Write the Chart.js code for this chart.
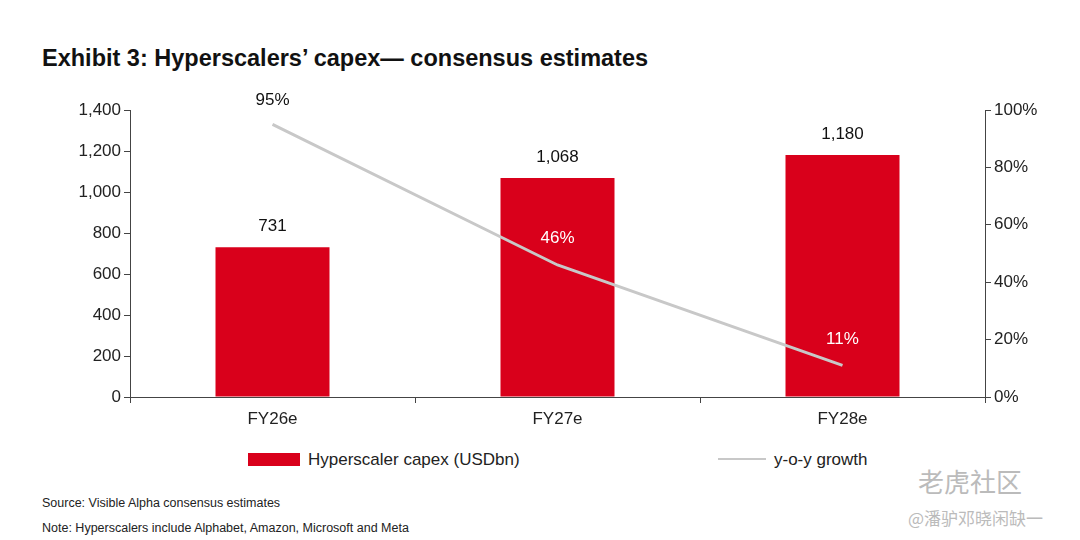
<!DOCTYPE html>
<html><head><meta charset="utf-8">
<script src="https://cdn.jsdelivr.net/npm/chart.js@4"></script>
<style>
body{margin:0;width:1080px;height:540px;background:#fff;font-family:"Liberation Sans",Arial,sans-serif;position:relative;overflow:hidden}
#title{position:absolute;left:42px;top:45px;font-size:23.5px;font-weight:bold;color:#111}
#wrap{position:absolute;left:0;top:90px;width:1080px;height:350px}
.leg{position:absolute;top:450px;font-size:17px;color:#222}
.note{position:absolute;left:42px;font-size:12.5px;color:#222}
.wm{position:absolute;color:#bbb}
</style></head><body>
<div id="title">Exhibit 3: Hyperscalers’ capex— consensus estimates</div>
<div id="wrap"><canvas id="c"></canvas></div>
<div class="leg" style="left:248px"><span style="display:inline-block;width:52px;height:13px;background:#d9001b;vertical-align:-1px;margin-right:8px"></span>Hyperscaler capex (USDbn)</div>
<div class="leg" style="left:718px"><span style="display:inline-block;width:48px;height:2px;background:#c8c8c8;vertical-align:5px;margin-right:8px"></span>y-o-y growth</div>
<div class="note" style="top:496px">Source: Visible Alpha consensus estimates</div>
<div class="note" style="top:521px">Note: Hyperscalers include Alphabet, Amazon, Microsoft and Meta</div>
<div class="wm" style="left:918px;top:462px;font-size:26px;font-family:'Noto Sans CJK SC'">老虎社区</div>
<div class="wm" style="left:908px;top:505px;font-size:17px;font-family:'Noto Sans CJK SC'">@潘驴邓晓闲缺一</div>
<script>
const categories = ["FY26e", "FY27e", "FY28e"];
const capex = [731, 1068, 1180];
const growth = [95, 46, 11];
const capexTicks = [0, 200, 400, 600, 800, 1000, 1200, 1400];

const labelPlugin = {
  id: "labels",
  afterDatasetsDraw(chart) {
    const ctx = chart.ctx;
    ctx.save();
    ctx.font = "17px 'Liberation Sans', Arial";
    ctx.textAlign = "center";
    ctx.textBaseline = "bottom";
    chart.getDatasetMeta(1).data.forEach((b, i) => {
      ctx.fillStyle = "#111";
      ctx.fillText(capex[i].toLocaleString("en-US"), b.x, b.y - 12);
    });
    chart.getDatasetMeta(0).data.forEach((p, i) => {
      if (i === 0) { ctx.fillStyle = "#111"; ctx.fillText(growth[i] + "%", p.x, p.y - 16); }
      else { ctx.fillStyle = "#fff"; ctx.fillText(growth[i] + "%", p.x, p.y - 18); }
    });
    ctx.restore();
  }
};

new Chart(document.getElementById("c"), {
  data: {
    labels: categories,
    datasets: [{
      type: "line", data: growth, yAxisID: "y2", borderColor: "#c8c8c8",
      borderWidth: 3, pointRadius: 0, tension: 0, order: 0
    }, {
      type: "bar", data: capex, yAxisID: "y", backgroundColor: "#d9001b",
      barPercentage: 0.8, categoryPercentage: 0.5, order: 1
    }]
  },
  options: {
    responsive: true, maintainAspectRatio: false, animation: false,
    layout: { padding: { top: 20, left: 0, right: 0 } },
    plugins: { legend: { display: false }, tooltip: { enabled: false } },
    scales: {
      x: {
        grid: { display: true, drawOnChartArea: false, offset: true, tickLength: 6, color: "#444" },
        border: { color: "#444" },
        ticks: { color: "#222", font: { size: 17 }, padding: 6 },
        afterFit: s => { s.height = 43; }
      },
      y: {
        position: "left", min: 0, max: 1400,
        afterBuildTicks: s => { s.ticks = capexTicks.map(v => ({ value: v })); },
        grid: { drawOnChartArea: false, tickLength: 6, color: "#444" },
        border: { color: "#444" },
        ticks: { color: "#222", font: { size: 17 }, callback: v => v.toLocaleString("en-US") },
        afterFit: s => { s.width = 130; }
      },
      y2: {
        position: "right", min: 0, max: 100,
        grid: { drawOnChartArea: false, tickLength: 6, color: "#444" },
        border: { color: "#444" },
        ticks: { stepSize: 20, color: "#222", font: { size: 17 }, callback: v => v + "%" },
        afterFit: s => { s.width = 95; }
      }
    }
  },
  plugins: [labelPlugin]
});
</script>
</body></html>
